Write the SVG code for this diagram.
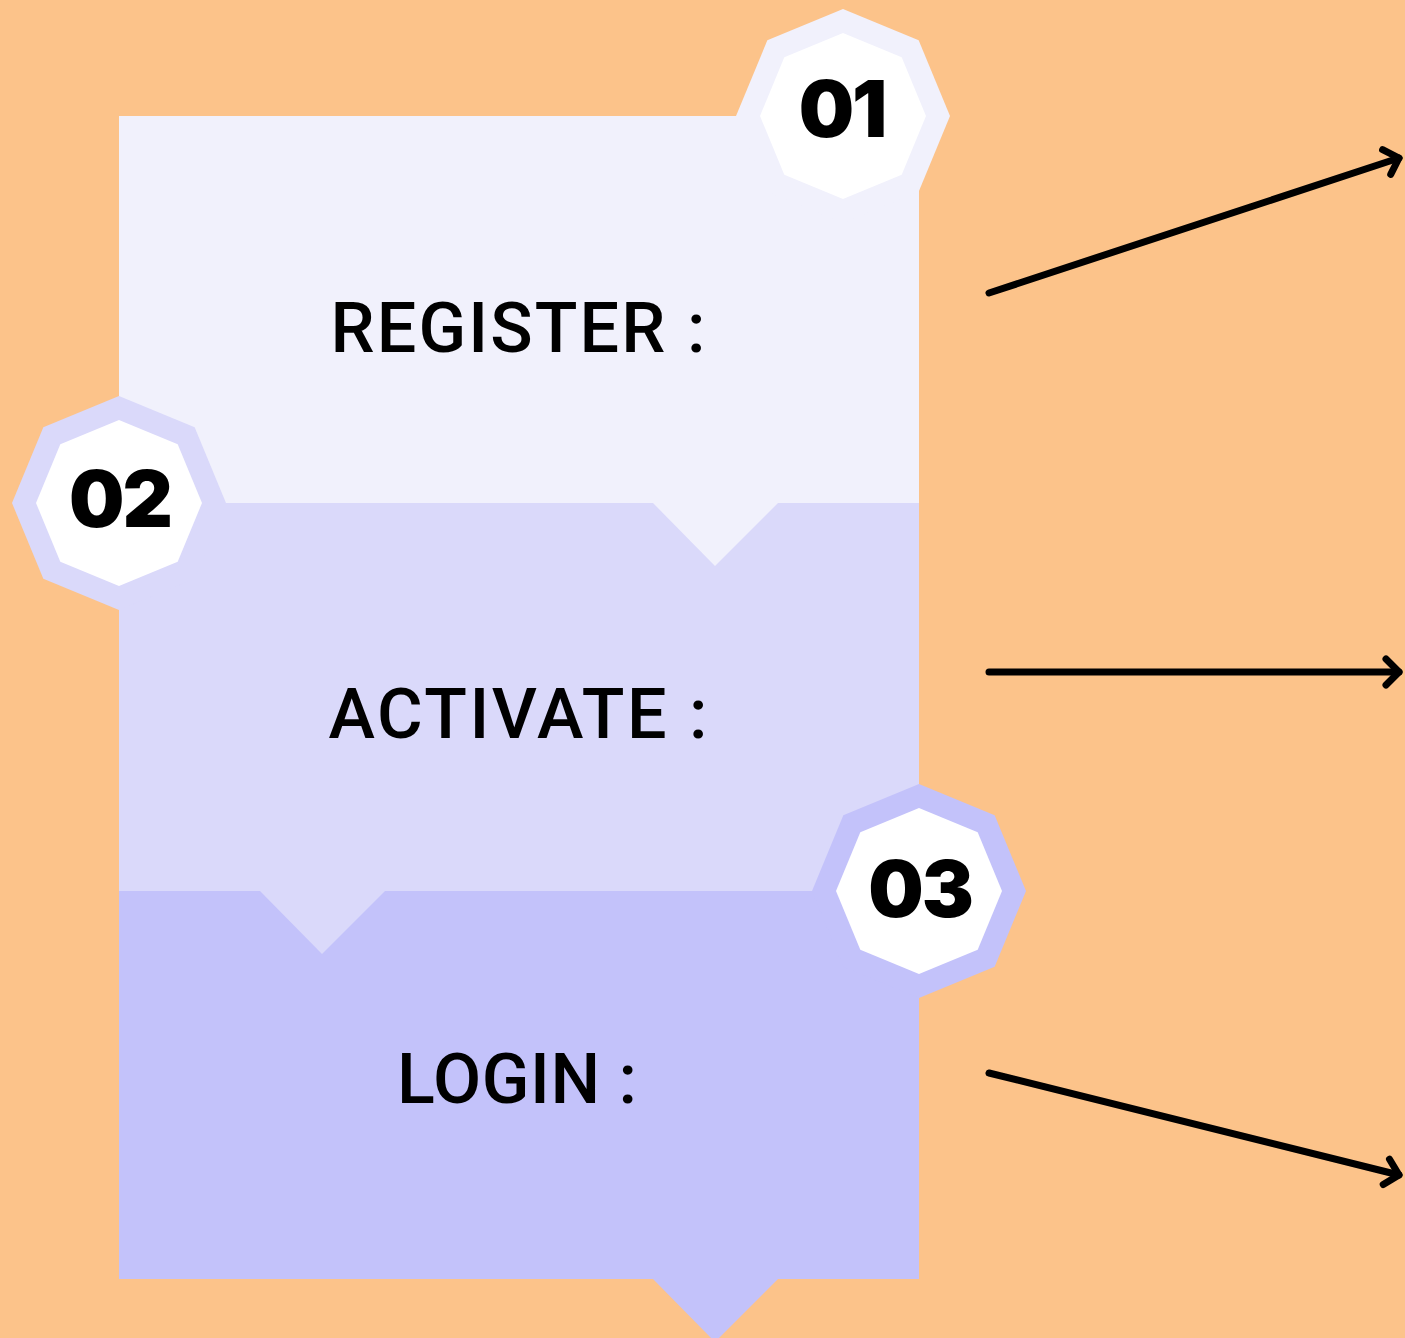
<svg xmlns="http://www.w3.org/2000/svg" width="1405" height="1338" viewBox="0 0 1405 1338">
<style>
.lbl{font-family:Roboto,"Liberation Sans",sans-serif;font-weight:500;font-size:70px;fill:#000;text-anchor:middle}
.num{font-family:Inter,"Liberation Sans",sans-serif;font-weight:900;font-size:78px;fill:#000;text-anchor:middle;letter-spacing:-2px}
.conn{stroke:#000;stroke-width:7;stroke-linecap:round;fill:none}
</style>
<defs>
<marker id="ah" markerUnits="userSpaceOnUse" markerWidth="40" markerHeight="40" viewBox="-20 -20 40 40" refX="0" refY="0" orient="auto">
<path d="M -13 -13 L 0 0 L -13 13" fill="none" stroke="#000" stroke-width="7" stroke-linecap="round" stroke-linejoin="round"/>
</marker>
<polygon id="oct" points="0,-1 0.7071,-0.7071 1,0 0.7071,0.7071 0,1 -0.7071,0.7071 -1,0 -0.7071,-0.7071"/>
</defs>
<rect width="1405" height="1338" fill="#FCC38A"/>
<g id="step3">
<rect x="119" y="891" width="800" height="388" fill="#C3C2FA"/>
<polygon points="652,1278 779,1278 715,1342" fill="#C3C2FA"/>
<text class="lbl" x="517" y="1103" textLength="240" lengthAdjust="spacing">LOGIN :</text>
</g>
<g id="step2">
<rect x="119" y="503" width="800" height="388" fill="#DAD9FA"/>
<polygon points="259,890 386,890 322,954" fill="#DAD9FA"/>
<text class="lbl" x="518" y="738" textLength="379" lengthAdjust="spacing">ACTIVATE :</text>
</g>
<g id="step1">
<rect x="119" y="116" width="800" height="387" fill="#F1F1FC"/>
<polygon points="652,502 779,502 715,566" fill="#F1F1FC"/>
<text class="lbl" x="518" y="352" textLength="375" lengthAdjust="spacing">REGISTER :</text>
</g>
<g id="badge1">
<use href="#oct" transform="translate(843,116) scale(107)" fill="#F1F1FC"/>
<use href="#oct" transform="translate(843,116) scale(83)" fill="#FFFFFF"/>
<text class="num" x="842" y="137">01</text>
</g>
<g id="badge2">
<use href="#oct" transform="translate(119,503) scale(107)" fill="#DAD9FA"/>
<use href="#oct" transform="translate(119,503) scale(83)" fill="#FFFFFF"/>
<text class="num" x="120" y="527">02</text>
</g>
<g id="badge3">
<use href="#oct" transform="translate(919,891) scale(107)" fill="#C3C2FA"/>
<use href="#oct" transform="translate(919,891) scale(83)" fill="#FFFFFF"/>
<text class="num" x="920" y="917">03</text>
</g>
<g id="connectors">
<line class="conn" x1="989" y1="293" x2="1399" y2="158" marker-end="url(#ah)"/>
<line class="conn" x1="989" y1="672" x2="1399" y2="672" marker-end="url(#ah)"/>
<line class="conn" x1="989" y1="1073" x2="1399" y2="1175" marker-end="url(#ah)"/>
</g>
</svg>
